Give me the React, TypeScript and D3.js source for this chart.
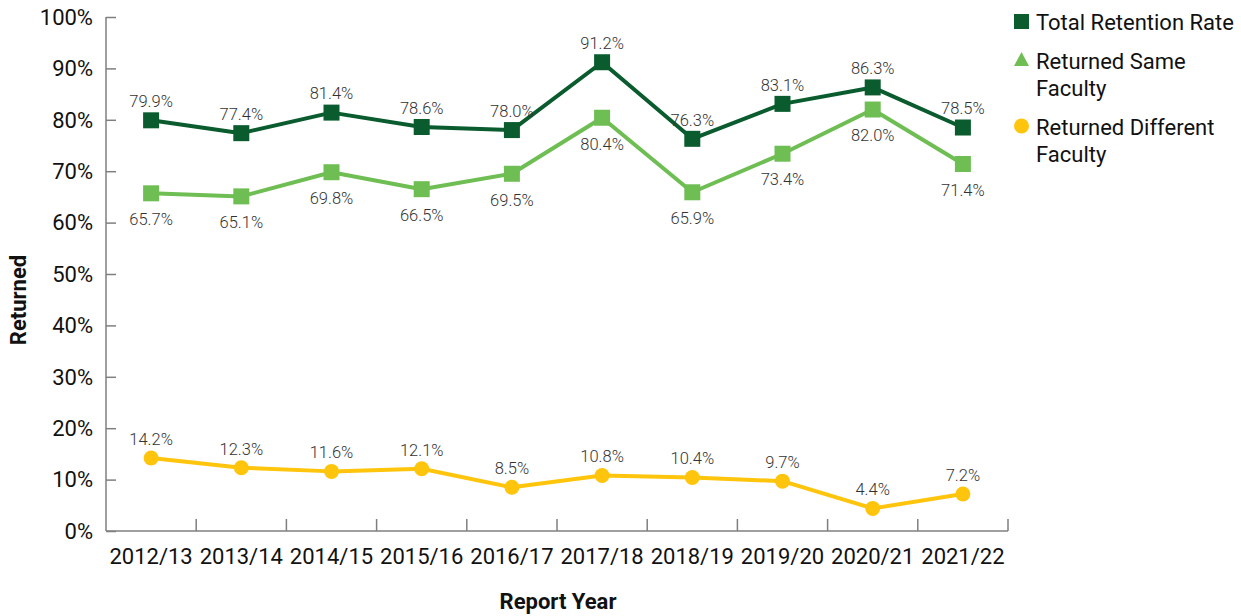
import React, { useEffect, useRef } from "react";
import * as d3 from "d3";

const years = ["2012/13", "2013/14", "2014/15", "2015/16", "2016/17", "2017/18", "2018/19", "2019/20", "2020/21", "2021/22"];
const totalRetention = [79.9, 77.4, 81.4, 78.6, 78.0, 91.2, 76.3, 83.1, 86.3, 78.5];
const sameFaculty = [65.7, 65.1, 69.8, 66.5, 69.5, 80.4, 65.9, 73.4, 82.0, 71.4];
const differentFaculty = [14.2, 12.3, 11.6, 12.1, 8.5, 10.8, 10.4, 9.7, 4.4, 7.2];
const yTicks = [0, 10, 20, 30, 40, 50, 60, 70, 80, 90, 100];

const W = 1241, H = 616;
const margin = { top: 17, right: 233, bottom: 85, left: 106 };
const FONT = "Roboto, 'Noto Sans', sans-serif";

const App = () => {
  const ref = useRef<SVGSVGElement>(null);

  useEffect(() => {
    const svg = d3.select(ref.current);
    svg.selectAll("*").remove();

    const x = d3.scaleBand().domain(years).range([margin.left, W - margin.right]);
    const y = d3.scaleLinear().domain([0, 100]).range([H - margin.bottom, margin.top]);
    const cx = (d: string) => (x(d) as number) + x.bandwidth() / 2;
    const axisColor = "#7f7f7f";

    // y axis
    const yAxis = svg.append("g").attr("transform", `translate(${margin.left},0)`)
      .call(d3.axisRight(y).tickValues(yTicks).tickSize(10).tickFormat(() => ""));
    yAxis.selectAll("line, path").attr("stroke", axisColor).attr("stroke-width", 1.5);
    yAxis.select(".domain").attr("d", `M0,${y(100)}V${y(0)}`);

    svg.selectAll(".ylab").data(yTicks).enter().append("text")
      .attr("x", 93).attr("y", d => y(d)).attr("dy", "0.35em")
      .attr("text-anchor", "end").attr("font-family", FONT).attr("font-size", 22).attr("fill", "#111")
      .text(d => d + "%");

    // x axis: ticks at band boundaries pointing up
    const xg = svg.append("g");
    xg.append("line").attr("x1", margin.left).attr("x2", W - margin.right)
      .attr("y1", y(0)).attr("y2", y(0)).attr("stroke", axisColor).attr("stroke-width", 1.5);
    const bounds = years.map(d => x(d) as number).concat([W - margin.right]).slice(1);
    xg.selectAll(".xt").data(bounds).enter().append("line")
      .attr("x1", d => d).attr("x2", d => d).attr("y1", y(0)).attr("y2", y(0) - 12)
      .attr("stroke", axisColor).attr("stroke-width", 1.5);
    svg.selectAll(".xlab").data(years).enter().append("text")
      .attr("x", d => cx(d)).attr("y", 564).attr("text-anchor", "middle")
      .attr("font-family", FONT).attr("font-size", 22).attr("fill", "#111").text(d => d);

    // titles
    svg.append("text").attr("x", 558).attr("y", 609).attr("text-anchor", "middle")
      .attr("font-family", FONT).attr("font-size", 22).attr("font-weight", "bold").attr("fill", "#111")
      .text("Report Year");
    svg.append("text").attr("transform", `translate(26,300) rotate(-90)`).attr("text-anchor", "middle")
      .attr("font-family", FONT).attr("font-size", 22).attr("font-weight", "bold").attr("fill", "#111")
      .text("Returned");

    const series = [
      { values: totalRetention, color: "#0a5c2f", marker: "square", labelDy: -19 },
      { values: sameFaculty, color: "#6fbe53", marker: "square", labelDy: 26 },
      { values: differentFaculty, color: "#ffc40c", marker: "circle", labelDy: -19 },
    ];

    const line = d3.line<number>().x((_, i) => cx(years[i])).y(d => y(d));

    series.forEach(s => {
      svg.append("path").datum(s.values).attr("d", line).attr("fill", "none")
        .attr("stroke", s.color).attr("stroke-width", 4).attr("stroke-linejoin", "round");
      if (s.marker === "square") {
        svg.selectAll(null).data(s.values).enter().append("rect")
          .attr("x", (_, i) => cx(years[i]) - 8).attr("y", d => y(d) - 8)
          .attr("width", 16).attr("height", 16).attr("fill", s.color);
      } else {
        svg.selectAll(null).data(s.values).enter().append("circle")
          .attr("cx", (_, i) => cx(years[i])).attr("cy", d => y(d)).attr("r", 7.5).attr("fill", s.color);
      }
      svg.selectAll(null).data(s.values).enter().append("text")
        .attr("x", (_, i) => cx(years[i])).attr("y", d => y(d) + s.labelDy).attr("dy", "0.35em")
        .attr("text-anchor", "middle").attr("font-family", FONT).attr("font-size", 16.5)
        .attr("font-weight", 300).attr("fill", "#333")
        .text(d => d.toFixed(1) + "%");
    });

    // legend
    const lg = svg.append("g").attr("font-family", FONT).attr("font-size", 22).attr("fill", "#111");
    lg.append("rect").attr("x", 1014).attr("y", 14).attr("width", 15).attr("height", 15).attr("fill", series[0].color);
    lg.append("text").attr("x", 1036).attr("y", 30).text("Total Retention Rate");
    lg.append("path").attr("d", "M1021.5,52L1029,66H1014Z").attr("fill", series[1].color);
    lg.append("text").attr("x", 1036).attr("y", 69).text("Returned Same");
    lg.append("text").attr("x", 1036).attr("y", 96).text("Faculty");
    lg.append("circle").attr("cx", 1021.5).attr("cy", 126).attr("r", 7.5).attr("fill", series[2].color);
    lg.append("text").attr("x", 1036).attr("y", 135).text("Returned Different");
    lg.append("text").attr("x", 1036).attr("y", 162).text("Faculty");
  }, []);

  return <svg ref={ref} width={W} height={H} style={{ position: "absolute", left: 0, top: 0, background: "#fff" }} />;
};

export default App;
